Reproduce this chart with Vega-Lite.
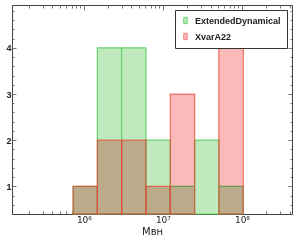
{
  "$schema": "https://vega.github.io/schema/vega-lite/v6.json",
  "width": 280,
  "height": 209,
  "autosize": "none",
  "padding": {"left": 12, "top": 5, "right": 8, "bottom": 29},
  "config": {
    "view": {"stroke": "#444444", "strokeWidth": 1},
    "font": "Liberation Sans",
    "axis": {"domain": false, "grid": false, "tickColor": "#555555", "tickWidth": 0.8}
  },
  "data": {
    "values": [
      {"series": "ExtendedDynamical", "lo": 730000, "hi": 1480000, "count": 1},
      {"series": "ExtendedDynamical", "lo": 1480000, "hi": 3000000, "count": 4},
      {"series": "ExtendedDynamical", "lo": 3000000, "hi": 6100000, "count": 4},
      {"series": "ExtendedDynamical", "lo": 6100000, "hi": 12400000, "count": 2},
      {"series": "ExtendedDynamical", "lo": 12400000, "hi": 25200000, "count": 1},
      {"series": "ExtendedDynamical", "lo": 25200000, "hi": 51000000, "count": 2},
      {"series": "ExtendedDynamical", "lo": 51000000, "hi": 104000000, "count": 1},
      {"series": "XvarA22", "lo": 730000, "hi": 1480000, "count": 1},
      {"series": "XvarA22", "lo": 1480000, "hi": 3000000, "count": 2},
      {"series": "XvarA22", "lo": 3000000, "hi": 6100000, "count": 2},
      {"series": "XvarA22", "lo": 6100000, "hi": 12400000, "count": 1},
      {"series": "XvarA22", "lo": 12400000, "hi": 25200000, "count": 3},
      {"series": "XvarA22", "lo": 51000000, "hi": 104000000, "count": 4}
    ]
  },
  "layer": [
    {
      "transform": [{"filter": "datum.series == 'ExtendedDynamical'"}],
      "mark": {"type": "bar", "fill": "#beeabe", "stroke": "#5fcf5f", "strokeWidth": 1.2, "strokeOpacity": 0.9},
      "encoding": {
        "x": {
          "field": "lo", "type": "quantitative",
          "scale": {"type": "log", "domain": [123000, 430000000], "nice": false},
          "axis": {
            "orient": "bottom",
            "values": [200000, 300000, 400000, 500000, 600000, 700000, 800000, 900000, 1000000, 2000000, 3000000, 4000000, 5000000, 6000000, 7000000, 8000000, 9000000, 10000000, 20000000, 30000000, 40000000, 50000000, 60000000, 70000000, 80000000, 90000000, 100000000, 200000000, 300000000, 400000000],
            "labelExpr": "datum.value == 1000000 ? '10⁶' : datum.value == 10000000 ? '10⁷' : datum.value == 100000000 ? '10⁸' : ''",
            "tickSize": {"condition": {"test": "datum.value == 1000000 || datum.value == 10000000 || datum.value == 100000000", "value": -5}, "value": -3},
            "labelPadding": 6,
            "labelFont": "DejaVu Sans",
            "labelFontSize": 9,
            "labelColor": "#222222",
            "labelFlush": false,
            "title": "Mʙʜ",
            "titleFont": "DejaVu Sans",
            "titleFontSize": 10,
            "titleFontWeight": "normal",
            "titleColor": "#222222",
            "titlePadding": 2
          }
        },
        "x2": {"field": "hi"},
        "y": {
          "field": "count", "type": "quantitative",
          "scale": {"domain": [0.4, 4.93], "nice": false, "zero": false},
          "axis": {
            "orient": "left",
            "values": [0.6, 0.8, 1, 1.2, 1.4, 1.6, 1.8, 2, 2.2, 2.4, 2.6, 2.8, 3, 3.2, 3.4, 3.6, 3.8, 4, 4.2, 4.4, 4.6, 4.8],
            "labelExpr": "datum.value == 1 || datum.value == 2 || datum.value == 3 || datum.value == 4 ? format(datum.value, 'd') : ''",
            "tickSize": {"condition": {"test": "datum.value == 1 || datum.value == 2 || datum.value == 3 || datum.value == 4", "value": -4}, "value": -2},
            "labelPadding": 5,
            "labelFont": "Liberation Sans",
            "labelFontWeight": "bold",
            "labelFontSize": 9,
            "labelColor": "#222222",
            "title": null
          }
        },
        "y2": {"datum": 0.4}
      }
    },
    {
      "transform": [{"filter": "datum.series == 'XvarA22'"}],
      "mark": {"type": "bar", "fill": "#fbbaba", "strokeWidth": 0, "blend": "multiply"},
      "encoding": {
        "x": {
          "field": "lo", "type": "quantitative",
          "axis": {
            "orient": "top",
            "values": [200000, 300000, 400000, 500000, 600000, 700000, 800000, 900000, 1000000, 2000000, 3000000, 4000000, 5000000, 6000000, 7000000, 8000000, 9000000, 10000000, 20000000, 30000000, 40000000, 50000000, 60000000, 70000000, 80000000, 90000000, 100000000, 200000000, 300000000, 400000000],
            "labels": false,
            "tickSize": {"condition": {"test": "datum.value == 1000000 || datum.value == 10000000 || datum.value == 100000000", "value": -5}, "value": -3},
            "title": null
          }
        },
        "x2": {"field": "hi"},
        "y": {
          "field": "count", "type": "quantitative",
          "axis": {
            "orient": "right",
            "values": [0.6, 0.8, 1, 1.2, 1.4, 1.6, 1.8, 2, 2.2, 2.4, 2.6, 2.8, 3, 3.2, 3.4, 3.6, 3.8, 4, 4.2, 4.4, 4.6, 4.8],
            "labels": false,
            "tickSize": {"condition": {"test": "datum.value == 1 || datum.value == 2 || datum.value == 3 || datum.value == 4", "value": -4}, "value": -2},
            "title": null
          }
        },
        "y2": {"datum": 0.4}
      }
    },
    {
      "transform": [{"filter": "datum.series == 'XvarA22'"}],
      "mark": {"type": "bar", "fill": null, "fillOpacity": 0, "stroke": "#ee4a3a", "strokeWidth": 1.2, "strokeOpacity": 0.75},
      "encoding": {
        "x": {"field": "lo", "type": "quantitative", "axis": null},
        "x2": {"field": "hi"},
        "y": {"field": "count", "type": "quantitative", "axis": null},
        "y2": {"datum": 0.4}
      }
    },
    {
      "mark": {"type": "square", "size": 0, "opacity": 1},
      "encoding": {
        "x": {"field": "lo", "type": "quantitative", "axis": null},
        "y": {"field": "count", "type": "quantitative", "axis": null},
        "fill": {
          "field": "series", "type": "nominal",
          "scale": {"domain": ["ExtendedDynamical", "XvarA22"], "range": ["#beeabe", "#fbbaba"]},
          "legend": {
            "title": null,
            "orient": "top-right",
            "offset": 5,
            "strokeColor": "#333333",
            "fillColor": "white",
            "padding": 6,
            "cornerRadius": 0,
            "labelFont": "Liberation Sans",
            "labelFontWeight": "bold",
            "labelFontSize": 9,
            "labelColor": "#222222",
            "symbolType": "M-0.55,-1H0.55V1H-0.55Z",
            "symbolSize": 40,
            "symbolStrokeWidth": 1,
            "symbolOpacity": 1,
            "rowPadding": 5,
            "labelOffset": 5
          }
        },
        "stroke": {
          "field": "series", "type": "nominal",
          "scale": {"domain": ["ExtendedDynamical", "XvarA22"], "range": ["#70d070", "#f48080"]},
          "legend": null
        }
      }
    }
  ],
  "resolve": {"axis": {"x": "independent", "y": "independent"}}
}
